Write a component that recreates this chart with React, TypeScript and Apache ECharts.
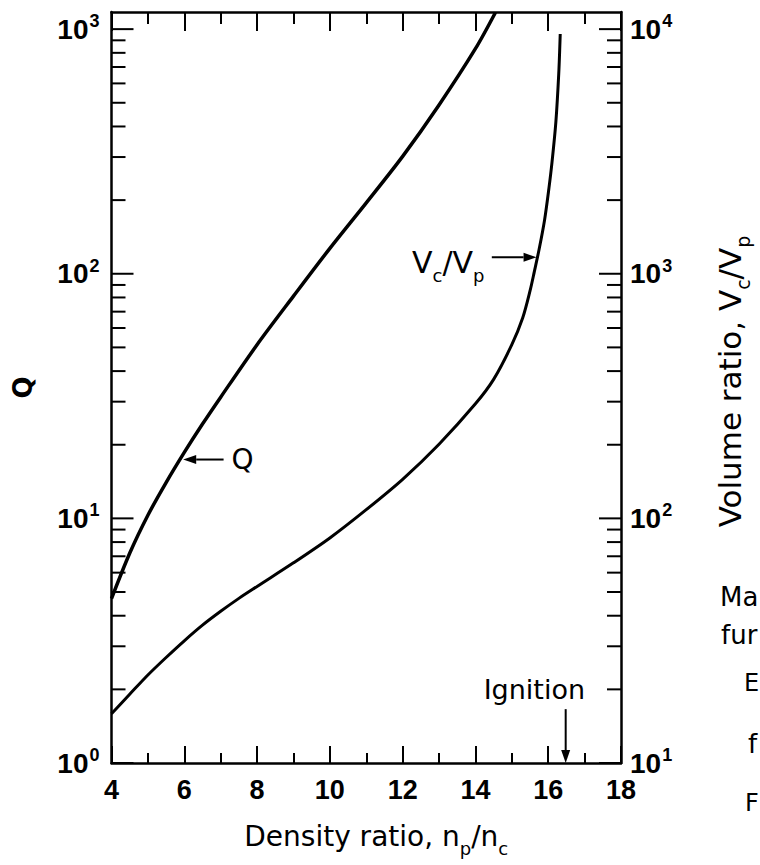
import React, { useEffect, useRef } from "react";
import * as echarts from "echarts";

// ---- data ----
const densityQ = [4, 4.5, 5, 5.5, 6, 6.5, 7, 8, 9, 10, 11, 12, 13, 14, 14.55];
const qValues = [4.7, 7.2, 10.3, 14.0, 18.6, 24.3, 31.3, 51.3, 81, 127, 195, 302, 490, 832, 1170];

const densityV = [4, 4.5, 5, 5.5, 6, 6.5, 7, 7.5, 8, 9, 10, 11, 12, 13, 14, 14.5, 15, 15.3, 15.5, 15.62, 15.75, 15.9, 16.02, 16.1, 16.21, 16.29, 16.33];
const vValues = [15.9, 19.1, 22.9, 27.0, 31.6, 36.6, 41.7, 47.1, 52.7, 65.8, 83.2, 108.6, 144.5, 201, 294, 370, 513, 661, 851, 1023, 1259, 1660, 2239, 2818, 4169, 6607, 9550];

// ---- axes ----
const xTickLabels = [4, 6, 8, 10, 12, 14, 16, 18];
const leftDecades = [1, 10, 100, 1000];
const rightDecades = [10, 100, 1000, 10000];
const minorMultipliers = [2, 3, 4, 5, 6, 7, 8, 9];

// ---- annotations (data coordinates) ----
const qArrowFrom = [7.08, 17.4];
const qArrowTo = [5.97, 17.4];
const qLabelAt = [7.3, 17.4];
const vArrowFrom = [14.45, 1167];
const vArrowTo = [15.68, 1167];
const vLabelAt = [14.25, 1167];
const ignArrowFrom = [16.48, 1.66];
const ignArrowTo = [16.48, 1.0];
const ignLabelAt = [15.62, 2.0];

const FT = "'DejaVu Sans', sans-serif";
const FL = "'Liberation Sans', Arial, sans-serif";

function buildTicks(decades: number[], x: number) {
  const out: number[][] = [];
  decades.forEach((d, i) => {
    out.push([x, d, 1]);
    if (i < decades.length - 1) minorMultipliers.forEach((m) => out.push([x, d * m, 0]));
  });
  return out;
}

const powLabel = (v: number) => {
  const l = Math.log10(v);
  const e = Math.round(l);
  return Math.abs(l - e) < 1e-6 ? `{b|10}{s|${e}}` : "";
};

const powRich = {
  b: { fontFamily: FL, fontWeight: "bold", fontSize: 28, color: "#000", verticalAlign: "middle" },
  s: { fontFamily: FL, fontWeight: "bold", fontSize: 18, color: "#000", verticalAlign: "middle", padding: [0, 0, 16, 1] },
};

function tickSeries(yAxisIndex: number, data: number[][], dir: number) {
  return {
    type: "custom",
    xAxisIndex: 0,
    yAxisIndex,
    silent: true,
    clip: false,
    z: 5,
    encode: { x: 0, y: 1 },
    data,
    renderItem: (_p: any, api: any) => {
      const p = api.coord([api.value(0), api.value(1)]);
      const len = api.value(2) ? 22 : 14;
      return {
        type: "line",
        shape: { x1: p[0], y1: p[1], x2: p[0] + dir * len, y2: p[1] },
        style: { stroke: "#000", lineWidth: 2 },
      };
    },
  };
}

export default function App() {
  const ref = useRef<HTMLDivElement>(null);
  useEffect(() => {
    const chart = echarts.init(ref.current!, null, { renderer: "svg" });
    const axisLine = { show: true, onZero: false, lineStyle: { color: "#000", width: 2.5 } };
    chart.setOption({
      animation: false,
      backgroundColor: "#fff",
      grid: { left: 111.5, right: 132, top: 12, bottom: 102 },
      xAxis: [
        {
          type: "value",
          min: 4,
          max: 18,
          interval: 2,
          position: "bottom",
          axisLine,
          axisTick: { show: true, inside: true, length: 17, lineStyle: { color: "#000", width: 2 } },
          minorTick: { show: true, splitNumber: 2, length: 10, lineStyle: { color: "#000", width: 2 } },
          splitLine: { show: false },
          axisLabel: {
            margin: 13,
            fontFamily: FL,
            fontWeight: "bold",
            fontSize: 27,
            color: "#000",
            formatter: (v: number) => (xTickLabels.includes(v) ? String(v) : ""),
          },
          name: "Density ratio, n{s|p}/n{s|c}",
          nameLocation: "middle",
          nameGap: 52,
          nameTextStyle: {
            fontFamily: FT,
            fontSize: 28,
            color: "#000",
            padding: [0, 0, 0, 20],
            rich: { s: { fontFamily: FT, fontSize: 18, color: "#000", padding: [24, 0, 0, 0] } },
          },
        },
        {
          type: "value",
          min: 4,
          max: 18,
          interval: 2,
          position: "top",
          axisLine,
          axisTick: { show: true, inside: true, length: 19, lineStyle: { color: "#000", width: 2 } },
          minorTick: { show: true, splitNumber: 2, length: 12, lineStyle: { color: "#000", width: 2 } },
          splitLine: { show: false },
          axisLabel: { show: false },
        },
      ],
      yAxis: [
        {
          type: "log",
          logBase: 10,
          min: 1,
          max: 1175,
          position: "left",
          axisLine,
          axisTick: { show: false },
          splitLine: { show: false },
          axisLabel: { margin: 12, formatter: powLabel, rich: powRich },
          name: "Q",
          nameLocation: "middle",
          nameGap: 76,
          nameTextStyle: { fontFamily: FT, fontWeight: "bold", fontSize: 26, color: "#000" },
        },
        {
          type: "log",
          logBase: 10,
          min: 10,
          max: 11750,
          position: "right",
          axisLine,
          axisTick: { show: false },
          splitLine: { show: false },
          axisLabel: { margin: 9, formatter: powLabel, rich: powRich },
          name: "Volume ratio, V{s|c}/V{s|p}",
          nameLocation: "middle",
          nameGap: 86,
          nameTextStyle: {
            fontFamily: FT,
            fontSize: 31,
            color: "#000",
            padding: [0, 0, 0, 12],
            rich: { s: { fontFamily: FT, fontSize: 19, color: "#000", padding: [26, 0, 0, 0] } },
          },
        },
      ],
      series: [
        {
          type: "line",
          name: "Q",
          xAxisIndex: 0,
          yAxisIndex: 0,
          data: densityQ.map((x, i) => [x, qValues[i]]),
          smooth: 0.3,
          showSymbol: false,
          lineStyle: { color: "#000", width: 3.5 },
          z: 3,
        },
        {
          type: "line",
          name: "Vc/Vp",
          xAxisIndex: 0,
          yAxisIndex: 1,
          data: densityV.map((x, i) => [x, vValues[i]]),
          smooth: 0.3,
          showSymbol: false,
          lineStyle: { color: "#000", width: 3 },
          z: 3,
        },
        tickSeries(0, buildTicks(leftDecades, 4), 1),
        tickSeries(1, buildTicks(rightDecades, 18), -1),
      ],
    });

    const toPx = (s: number, p: number[]) => chart.convertToPixel({ seriesIndex: s }, p) as number[];
    const arrow = (a: number[], b: number[]) => {
      const dx = b[0] - a[0];
      const dy = b[1] - a[1];
      const L = Math.hypot(dx, dy) || 1;
      const ux = dx / L;
      const uy = dy / L;
      const hl = 13;
      const hw = 4.5;
      const base = [b[0] - ux * hl, b[1] - uy * hl];
      return [
        { type: "line", shape: { x1: a[0], y1: a[1], x2: base[0], y2: base[1] }, style: { stroke: "#000", lineWidth: 2 } },
        {
          type: "polygon",
          shape: { points: [b, [base[0] - uy * hw, base[1] + ux * hw], [base[0] + uy * hw, base[1] - ux * hw]] },
          style: { fill: "#000" },
        },
      ];
    };

    const qA = toPx(0, qArrowFrom);
    const qB = toPx(0, qArrowTo);
    const qL = toPx(0, qLabelAt);
    const vA = toPx(1, vArrowFrom);
    const vB = toPx(1, vArrowTo);
    const vL = toPx(1, vLabelAt);
    const iA = toPx(0, ignArrowFrom);
    const iB = toPx(0, ignArrowTo);
    const iL = toPx(0, ignLabelAt);

    const txt = (text: string, x: number, y: number, size: number, align = "left", extra: any = {}) => ({
      type: "text",
      style: {
        text,
        x,
        y,
        fontFamily: FT,
        fontSize: size,
        fill: "#000",
        textAlign: align,
        textVerticalAlign: "middle",
        ...extra,
      },
    });

    chart.setOption({
      graphic: [
        ...arrow(qA, qB),
        ...arrow(vA, vB),
        ...arrow(iA, iB),
        txt("Q", qL[0], qL[1], 28),
        txt("V{s|c}/V{s|p}", vL[0], vL[1] + 5, 30, "right", {
          rich: { s: { fontFamily: FT, fontSize: 18, fill: "#000", padding: [26, 0, 0, 0] } },
        }),
        txt("Ignition", iL[0], iL[1], 27, "center"),
        txt("Ma", 720, 597, 26),
        txt("fur", 721, 635, 26),
        txt("E", 744, 683, 24),
        txt("f", 748, 744, 26),
        txt("F", 745, 803, 24),
      ],
    });

    return () => chart.dispose();
  }, []);
  return <div ref={ref} style={{ position: "fixed", left: 0, top: 0, width: 760, height: 865, background: "#fff" }} />;
}
